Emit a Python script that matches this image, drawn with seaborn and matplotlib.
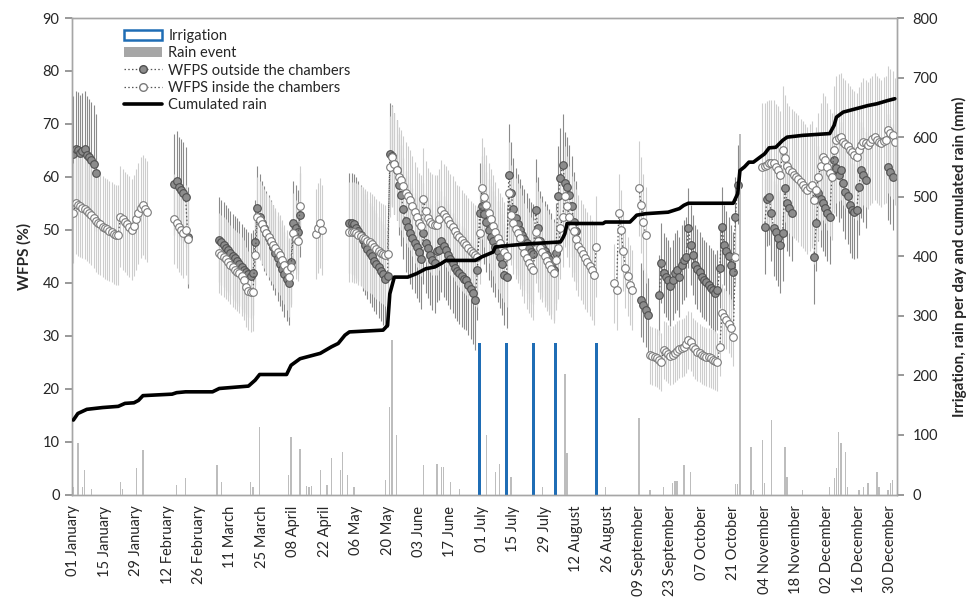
import numpy as np
import pandas as pd
import matplotlib
matplotlib.use("Agg")
import matplotlib.pyplot as plt
import seaborn as sns
from matplotlib.patches import Patch
from matplotlib.lines import Line2D

# ---------------- x axis (day of year, leap year) ----------------
tick_days = list(range(0, 365, 14))
tick_labels = ["01 January", "15 January", "29 January", "12 February", "26 February",
               "11 March", "25 March", "08 April", "22 April", "06 May", "20 May",
               "03 June", "17 June", "01 July", "15 July", "29 July", "12 August",
               "26 August", "09 September", "23 September", "07 October", "21 October",
               "04 November", "18 November", "02 December", "16 December", "30 December"]

# ---------------- WFPS outside the chambers (daily segments) ----------------
out_start = [0, 45, 65, 123, 253, 261, 308, 330, 363]
out_sd = [11, 9.5, 8, 9.5, 7, 7.5, 9, 9, 10]
out_1 = [64.3, 65.3, 65.0, 64.5, 64.8, 65.2, 64.2, 63.7, 63.2, 62.5, 60.8]
out_2 = [58.6, 59.2, 58.1, 57.6, 57.0, 56.2, 48.6]
out_3 = [48.1, 47.6, 47.2, 46.6, 46.2, 45.6, 45.0, 44.6, 44.2, 43.6, 43.0, 42.5, 42.1, 41.6,
         41.3, 41.9, 47.6, 54.1, 52.5, 51.3, 50.3, 49.4, 48.5, 47.6, 46.7, 45.6, 44.6, 43.6,
         42.6, 41.6, 40.8, 40.0, 44.0, 51.2, 50.4, 49.6, 52.8]
out_4 = [51.3, 51.2, 51.0, 50.4, 49.8, 49.0, 48.0, 47.2, 46.4, 45.6, 45.0, 44.2, 43.6, 42.9,
         42.2, 41.6, 40.8, 41.2,
         64.4, 64.0, 62.5, 61.3, 58.5, 56.5, 54.0, 51.6, 50.6, 49.3, 48.4, 47.5, 46.7, 45.8, 44.5,
         49.3, 47.5, 46.6, 45.3, 44.3, 43.7, 45.9, 46.2, 47.8, 46.9, 46.2, 45.3, 44.5, 43.7,
         42.8, 42.2, 41.8, 41.2, 40.8, 40.5, 39.6, 38.8, 38.0, 36.8,
         42.4, 53.2, 54.4, 53.0, 51.5, 50.0, 48.7, 47.8, 46.8, 45.9, 44.8, 43.5, 41.5, 41.0,
         60.4, 57.0, 54.0, 52.2, 51.0, 50.0, 49.0, 48.2, 47.5, 46.5, 45.8, 45.4,
         53.8, 50.4, 47.8, 46.8, 46.0, 45.3, 44.5, 43.6, 42.5, 45.6, 56.3, 59.7, 62.3, 58.9,
         58.1, 56.6, 54.4, 51.5, 49.7]
out_5 = [36.7, 35.8, 34.8, 33.9]
out_6 = [37.7, 43.7, 41.8, 41.1, 40.5, 39.3, 40.5, 41.8, 42.4, 41.1, 43.4, 44.3, 44.9, 50.3,
         47.1, 45.2, 43.4, 42.6, 42.0, 41.1, 40.6, 40.2, 39.6, 39.0, 38.6, 38.0, 38.6, 42.7,
         50.6, 47.1, 46.0, 45.0, 43.4, 42.1, 52.5, 58.5]
out_7 = [50.6, 55.9, 56.2, 53.1, 50.3, 49.6, 48.4, 47.1, 49.3, 57.8, 55.0, 54.1, 53.1]
out_8 = [44.9, 51.2, 56.9, 55.8, 55.0, 54.1, 53.1, 52.5, 60.4, 63.2, 61.6, 60.4, 61.3, 58.8,
         57.2, 56.3, 54.7, 53.7, 53.4, 53.7, 58.1, 61.3, 60.4, 59.4]
out_9 = [61.9, 61.0, 60.0]

# ---------------- WFPS inside the chambers (daily segments) ----------------
in_start = [0, 45, 65, 108, 123, 241, 252, 257, 307]
in_sd = [9.5, 8.5, 7.5, 8.5, 9.5, 7.5, 9, 5.5, 12]
in_1 = [53.2, 55.0, 54.6, 54.4, 54.2, 54.0, 53.6, 53.2, 52.8, 52.2, 51.6, 51.2, 51.0, 50.6,
        50.3, 50.1, 49.8, 49.6, 49.2, 49.0, 49.0, 52.5, 52.0, 51.5, 51.0, 50.6, 50.0, 50.8,
        52.0, 53.1, 54.2, 54.7, 54.0, 53.4]
in_2 = [52.0, 51.3, 50.6, 50.0, 49.4, 50.0, 48.3]
in_3 = [45.6, 45.2, 44.9, 44.5, 44.0, 43.4, 42.9, 42.5, 42.1, 41.8, 41.2, 40.5, 39.2, 38.5,
        38.2, 38.3, 45.2, 52.5, 51.8, 51.0, 50.2, 49.4, 48.6, 47.9, 47.2, 46.6, 45.8, 45.2,
        44.3, 43.4, 42.4, 41.0, 43.0, 49.4, 48.2, 47.8, 54.5]
in_4 = [49.2, 50.3, 51.2, 50.0]
in_5 = [49.6, 49.6, 49.5, 49.4, 49.1, 48.8, 48.5, 48.2, 47.9, 47.6, 47.3, 46.8, 46.4, 46.0,
        45.6, 45.4, 45.2, 45.5,
        61.9, 63.8, 62.5, 61.3, 60.0, 59.4, 58.2, 57.0, 56.3, 55.6, 54.5, 53.3, 52.4, 51.2,
        50.8, 55.9, 53.5, 52.2, 51.5, 51.0, 50.9, 50.9, 52.0, 53.7, 53.0, 52.5, 51.8, 51.0,
        50.6, 49.8, 49.0, 48.7, 48.0, 47.5, 47.1, 46.5, 46.0, 45.6, 45.2, 44.9,
        49.3, 57.8, 56.2, 54.6, 53.2, 52.0, 50.8, 49.5, 48.4, 47.5, 46.6, 45.8, 45.0,
        57.0, 52.8, 51.2, 50.2, 49.4, 48.4, 47.0, 45.6, 44.6, 43.8, 43.0, 42.4,
        49.5, 47.8, 46.5, 45.8, 45.0, 44.2, 43.4, 42.6, 41.9,
        44.3, 46.5, 50.3, 52.5, 56.3, 54.4, 52.5, 50.6, 49.8, 48.2, 47.0, 46.2, 45.4, 44.6,
        43.9, 43.2, 42.4, 41.5, 46.8]
in_6 = [39.9, 38.6, 53.1, 50.0, 46.0, 42.8, 41.2, 39.6, 38.6]
in_7 = [57.8, 54.7, 51.5, 49.0]
in_8 = [26.4, 26.2, 26.0, 25.8, 25.5, 25.1, 27.3, 27.0, 26.6, 26.1, 26.4, 26.7, 27.2, 27.5,
        27.7, 27.9, 28.5, 29.2, 28.9, 27.9, 27.4, 27.0, 26.7, 26.4, 26.2, 26.0, 25.9, 25.7,
        25.5, 25.3, 25.1, 27.9, 34.2, 33.6, 33.0, 32.3, 31.4, 29.8, 44.9]
in_9 = [61.9, 62.0, 62.3, 62.6, 62.6, 62.6, 61.8, 61.3, 60.4, 65.1, 63.5, 62.0, 61.3, 60.9,
        60.4, 60.0, 59.6, 59.0, 58.5, 57.9, 57.5, 58.0, 58.5, 55.6, 57.5, 60.0, 62.0, 63.8,
        63.2, 61.9, 60.8, 60.0, 65.1, 67.0, 67.4, 67.6, 66.6, 66.2, 65.8, 65.1, 64.6, 64.2,
        63.8, 65.0, 66.0, 66.6, 66.3, 66.0, 66.6, 67.1, 67.6, 67.0, 66.6, 66.3, 66.8, 67.0,
        68.9, 68.3, 67.9, 66.6]

# ---------------- rain per day (mm) ----------------
rain_day = [0, 2, 4, 5, 8, 21, 22, 28, 31, 46, 50, 64, 66, 79, 80, 83, 96, 97, 101, 104, 105,
            106, 110, 113, 115, 119, 120, 122, 125, 139, 141, 142, 144, 156, 162, 164, 165,
            168, 172, 184, 188, 190, 195, 209, 219, 220, 237, 252, 257, 263, 267, 268, 269,
            272, 275, 295, 296, 297, 302, 303, 307, 308, 311, 317, 318, 325, 337, 339, 340,
            341, 342, 344, 345, 350, 352, 354, 358, 359, 363, 364, 365]
rain_mm = [13, 86, 13, 41, 10, 21, 10, 44, 75, 16, 27, 50, 21, 21, 13, 114, 33, 97, 77, 14, 13,
           14, 41, 16, 61, 41, 72, 33, 12, 24, 147, 259, 100, 50, 52, 47, 47,
           21, 10, 100, 38, 52, 30, 13, 203, 69, 12, 128, 8, 13, 19, 22, 22,
           50, 37, 18, 18, 606, 80, 8, 91, 20, 125, 80, 30, 8, 12, 27, 45,
           105, 86, 72, 13, 8, 12, 20, 38, 12, 8, 20, 25]

# ---------------- irrigation (mm) ----------------
irr_day = [181, 193, 205, 215, 233]
irr_mm = [255, 255, 255, 255, 255]

# ---------------- cumulated rain (mm) ----------------
cum_day = [0, 2, 6, 13, 20, 23, 27, 29, 31, 44, 46, 50, 62, 65, 78, 81, 83, 95, 97, 101, 110,
           115, 118, 121, 123, 138, 140, 141, 143, 149, 153, 157, 161, 164, 166, 179, 182,
           187, 188, 194, 203, 217, 218, 219, 220, 236, 237, 248, 250, 251, 255, 265, 270,
           272, 274, 294, 296, 297, 299, 301, 303, 306, 308, 310, 313, 316, 318, 325, 337,
           339, 340, 343, 349, 354, 358, 363, 366]
cum_mm = [125, 136, 143, 146, 148, 153, 154, 158, 166, 168.5, 171, 172.4, 172.4, 178, 182,
          192, 201.5, 201.5, 217, 228, 237, 248, 253.6, 267.5, 273, 276, 284, 337, 365, 365,
          371, 379, 382, 388, 393, 393, 399, 407, 415.6, 418, 421, 424, 430, 438, 455, 455,
          457.5, 457.5, 465, 469, 471.5, 474, 480, 485.5, 489, 489, 505, 544, 550, 558, 558,
          566.5, 572, 582, 583, 594.5, 600, 603, 606, 620, 633.6, 642, 648, 653, 656, 661.6,
          664.5]


def build(starts, segs, sds):
    rows = []
    for k, (s, vals, sd) in enumerate(zip(starts, segs, sds)):
        for i, v in enumerate(vals):
            rows.append((k, s + i, v, sd))
    return pd.DataFrame(rows, columns=["seg", "day", "wfps", "sd"])


df_out = build(out_start, [out_1, out_2, out_3, out_4, out_5, out_6, out_7, out_8, out_9], out_sd)
df_in = build(in_start, [in_1, in_2, in_3, in_4, in_5, in_6, in_7, in_8, in_9], in_sd)
df_cum = pd.DataFrame({"day": cum_day, "mm": cum_mm})

sns.set_theme(style="white")
plt.rcParams["font.family"] = ["Lato", "DejaVu Sans"]

fig = plt.figure(figsize=(9.68, 6.13), dpi=100)
ax = fig.add_axes([0.0744, 0.1933, 0.8523, 0.7773])
ax2 = ax.twinx()

blue = "#1f6db5"
dark_bar = "#8a8a8a"
light_bar = "#cdcdcd"

# error bars
ax.errorbar(df_out["day"], df_out["wfps"], yerr=df_out["sd"], fmt="none",
            ecolor=dark_bar, elinewidth=0.8, zorder=1)
ax.errorbar(df_in["day"], df_in["wfps"], yerr=df_in["sd"], fmt="none",
            ecolor=light_bar, elinewidth=0.8, zorder=2)

sns.lineplot(data=df_out, x="day", y="wfps", units="seg", estimator=None, ax=ax,
             color="#555555", lw=0.9, linestyle=(0, (1.2, 1.8)), marker="o", markersize=5.5,
             markerfacecolor="#8c8c8c", markeredgecolor="#505050", markeredgewidth=0.8,
             zorder=3, legend=False)
sns.lineplot(data=df_in, x="day", y="wfps", units="seg", estimator=None, ax=ax,
             color="#555555", lw=0.9, linestyle=(0, (1.2, 1.8)), marker="o", markersize=5.5,
             markerfacecolor="white", markeredgecolor="#7a7a7a", markeredgewidth=0.8,
             zorder=4, legend=False)

# right axis: rain, irrigation, cumulated rain
ax2.bar(rain_day, rain_mm, width=0.6, color="#bdbdbd", linewidth=0, zorder=1)
ax2.bar(irr_day, irr_mm, width=1.3, color=blue, linewidth=0, zorder=2)
sns.lineplot(data=df_cum, x="day", y="mm", ax=ax2, color="black", lw=2.6, zorder=3,
             legend=False)

xmin, xmax = -0.6, 367
ax.set_xlim(xmin, xmax)
ax2.set_xlim(xmin, xmax)
ax.set_ylim(0, 90)
ax2.set_ylim(0, 800)
ax.set_yticks(range(0, 91, 10))
ax2.set_yticks(range(0, 801, 100))
ax.set_xticks(tick_days)
ax.set_xticklabels(tick_labels, rotation=90, fontsize=10.5)
ax.tick_params(axis="y", labelsize=10.5, length=5, color="#8c8c8c", direction="out", pad=4)
ax.tick_params(axis="x", length=5, color="#8c8c8c", direction="out", pad=3)
ax2.tick_params(axis="y", labelsize=10.5, length=5, color="#8c8c8c", direction="out", pad=6)
ax.set_xlabel("")
ax.set_ylabel("WFPS (%)", fontweight="bold", fontsize=11, labelpad=8)
ax2.set_ylabel("Irrigation, rain per day and cumulated rain (mm)", fontweight="bold",
               fontsize=11, labelpad=10)
for a in (ax, ax2):
    for sp in a.spines.values():
        sp.set_color("#a6a6a6")
        sp.set_linewidth(1.0)
ax2.patch.set_visible(False)

handles = [
    Patch(facecolor="white", edgecolor=blue, linewidth=1.8),
    Patch(facecolor="#a6a6a6", edgecolor="none"),
    Line2D([], [], color="#555555", lw=0.9, linestyle=(0, (1.2, 1.8)), marker="o",
           markersize=5.5, markerfacecolor="#8c8c8c", markeredgecolor="#505050"),
    Line2D([], [], color="#555555", lw=0.9, linestyle=(0, (1.2, 1.8)), marker="o",
           markersize=5.5, markerfacecolor="white", markeredgecolor="#7a7a7a"),
    Line2D([], [], color="black", lw=2.6),
]
labels = ["Irrigation", "Rain event", "WFPS outside the chambers",
          "WFPS inside the chambers", "Cumulated rain"]
leg = ax2.legend(handles, labels, loc="upper left", bbox_to_anchor=(0.052, 0.995),
                 frameon=False, fontsize=10.5, handlelength=2.6, handleheight=0.7,
                 labelspacing=0.22, handletextpad=0.45, borderaxespad=0.2)

fig.savefig("out.png", dpi=100)
